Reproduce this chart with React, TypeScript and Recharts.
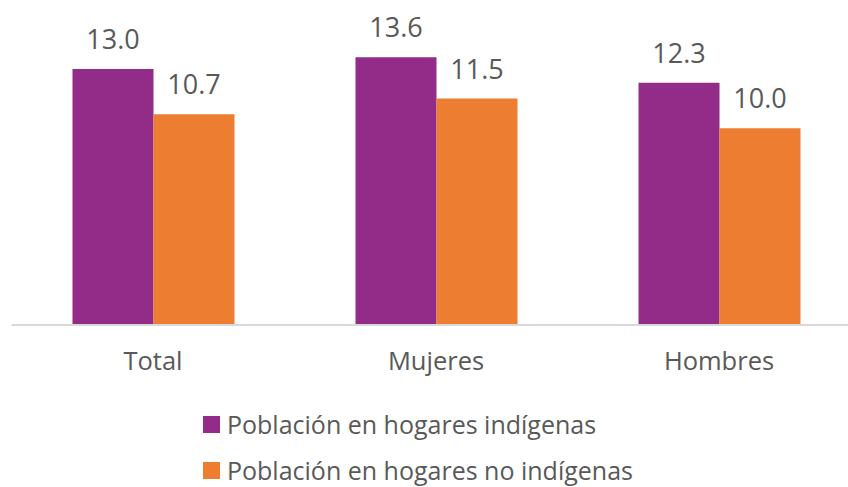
import React from 'react';
import { BarChart, Bar, XAxis, YAxis, LabelList, Legend } from 'recharts';

const categories = ['Total', 'Mujeres', 'Hombres'];
const indigenas = [13.0, 13.6, 12.3];
const noIndigenas = [10.7, 11.5, 10.0];
const seriesNames = ['Población en hogares indígenas', 'Población en hogares no indígenas'];
const COLORS = ['#922C88', '#ED7D31'];

const data = categories.map((name, i) => ({
  name,
  indigenas: indigenas[i],
  noIndigenas: noIndigenas[i],
}));

const FONT = '"Open Sans", sans-serif';
const TEXT = '#595959';

const LegendBox = () => (
  <div style={{ fontFamily: FONT, color: TEXT, fontSize: 25, lineHeight: '30px' }}>
    {seriesNames.map((s, i) => (
      <div key={s} style={{ display: 'flex', alignItems: 'center', height: 46 }}>
        <span style={{ width: 17, height: 17, background: COLORS[i], marginRight: 7 }} />
        <span>{s}</span>
      </div>
    ))}
  </div>
);

const App: React.FC = () => {
  return (
    <div
      style={{
        position: 'fixed',
        left: 0,
        top: 0,
        width: 848,
        height: 487,
        overflow: 'hidden',
        background: '#fff',
      }}
    >
      <BarChart
        width={870}
        height={487}
        data={data}
        margin={{ top: 10, right: 9.5, left: 11.5, bottom: 102 }}
        barSize={81}
        barGap={0}
      >
        <XAxis
          dataKey="name"
          tickLine={false}
          tickSize={0}
          tickMargin={27}
          height={60}
          axisLine={{ stroke: '#d9d9d9', strokeWidth: 2 }}
          tick={{ fill: TEXT, fontSize: 25.5, fontFamily: FONT }}
        />
        <YAxis hide domain={[0, 16]} />
        <Bar dataKey="indigenas" fill={COLORS[0]} isAnimationActive={false}>
          <LabelList
            dataKey="indigenas"
            position="top"
            offset={20}
            formatter={(v: number) => v.toFixed(1)}
            style={{ fill: TEXT, fontSize: 27, fontFamily: FONT }}
          />
        </Bar>
        <Bar dataKey="noIndigenas" fill={COLORS[1]} isAnimationActive={false}>
          <LabelList
            dataKey="noIndigenas"
            position="top"
            offset={20}
            formatter={(v: number) => v.toFixed(1)}
            style={{ fill: TEXT, fontSize: 27, fontFamily: FONT }}
          />
        </Bar>
        <Legend
          layout="vertical"
          align="center"
          verticalAlign="middle"
          content={<LegendBox />}
          wrapperStyle={{ left: 203, top: 401, width: 520, height: 86 }}
        />
      </BarChart>
    </div>
  );
};

export default App;
